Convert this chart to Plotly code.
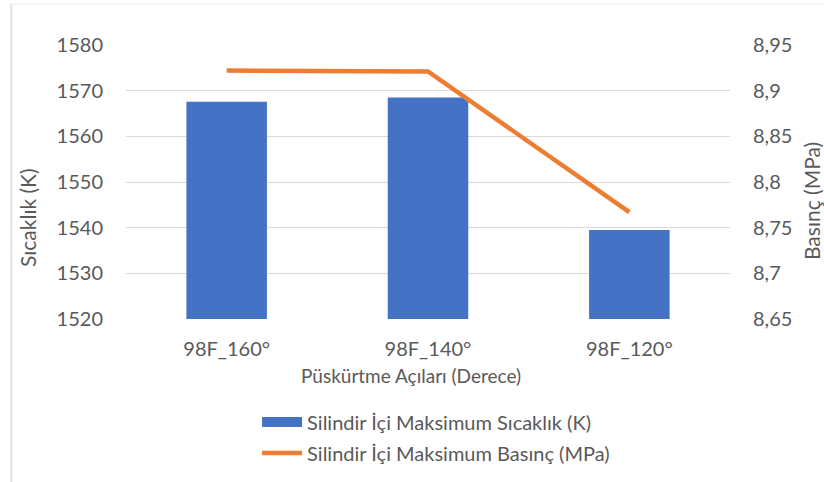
import plotly.graph_objects as go

# Injection angle cases
categories = ["98F_160°", "98F_140°", "98F_120°"]

# Maximum in-cylinder temperature (K) and pressure (MPa)
temperature_k = [1567.6, 1568.5, 1539.5]
pressure_mpa = [8.922, 8.921, 8.767]

# Axis ticks
temp_ticks = [1520, 1530, 1540, 1550, 1560, 1570, 1580]
press_ticks = [8.65, 8.70, 8.75, 8.80, 8.85, 8.90, 8.95]
press_tick_text = ["8,65", "8,7", "8,75", "8,8", "8,85", "8,9", "8,95"]

FONT = "Lato, Carlito, Calibri, sans-serif"
TEXT = "#595959"
GRID = "#d9d9d9"
BLUE = "#4472C4"
ORANGE = "#ED7D31"

temp_name = "Silindir İçi Maksimum Sıcaklık (K)"
press_name = "Silindir İçi Maksimum Basınç (MPa)"

fig = go.Figure()

fig.add_trace(go.Bar(
    x=categories,
    y=temperature_k,
    name=temp_name,
    legendgroup="temp",
    showlegend=False,
    marker=dict(color=BLUE, line=dict(width=0)),
    yaxis="y",
))

# wide rectangular legend key for the bar series
fig.add_trace(go.Scatter(
    x=[None],
    y=[None],
    name=temp_name,
    legendgroup="temp",
    mode="lines",
    line=dict(color=BLUE, width=14),
    hoverinfo="skip",
))

fig.add_trace(go.Scatter(
    x=categories,
    y=pressure_mpa,
    name=press_name,
    mode="lines",
    line=dict(color=ORANGE, width=4.5),
    yaxis="y2",
))

fig.update_layout(
    width=824,
    height=482,
    margin=dict(l=126, r=94, t=45, b=163, autoexpand=False),
    paper_bgcolor="white",
    plot_bgcolor="white",
    font=dict(family=FONT, color=TEXT),
    bargap=0.6,
    showlegend=True,
    legend=dict(
        x=0.217, y=-0.305, xanchor="left", yanchor="top",
        orientation="v",
        font=dict(family=FONT, size=20, color=TEXT),
        itemwidth=40,
        tracegroupgap=2,
        bgcolor="rgba(0,0,0,0)",
    ),
    xaxis=dict(
        showgrid=False,
        showline=False,
        zeroline=False,
        automargin=False,
        tickfont=dict(size=20, color=TEXT),
        ticklabelstandoff=16,
    ),
    yaxis=dict(
        range=[1520, 1580],
        tickvals=temp_ticks,
        showgrid=True,
        gridcolor=GRID,
        gridwidth=1.2,
        zeroline=False,
        showline=False,
        automargin=False,
        tickfont=dict(size=20, color=TEXT),
        ticklabelstandoff=22,
    ),
    yaxis2=dict(
        range=[8.65, 8.95],
        tickvals=press_ticks,
        ticktext=press_tick_text,
        overlaying="y",
        side="right",
        showgrid=False,
        zeroline=False,
        showline=False,
        automargin=False,
        tickfont=dict(size=20, color=TEXT),
        ticklabelstandoff=22,
    ),
    annotations=[
        dict(text="Püskürtme Açıları (Derece)", xref="paper", yref="paper",
             x=0.472, y=-0.208, xanchor="center", yanchor="middle",
             showarrow=False, font=dict(size=19, color=TEXT)),
        dict(text="Sıcaklık (K)", xref="paper", yref="paper",
             x=-0.162, y=0.369, xanchor="center", yanchor="middle",
             textangle=-90, showarrow=False, font=dict(size=21, color=TEXT)),
        dict(text="Basınç (MPa)", xref="paper", yref="paper",
             x=1.136, y=0.431, xanchor="center", yanchor="middle",
             textangle=-90, showarrow=False, font=dict(size=21, color=TEXT)),
    ],
    shapes=[
        dict(type="line", xref="paper", yref="paper",
             x0=-0.19, x1=-0.19, y0=-0.6, y1=1.15,
             line=dict(color="#e0e0e0", width=2)),
        dict(type="line", xref="paper", yref="paper",
             x0=-0.19, x1=1.2, y0=1.15, y1=1.15,
             line=dict(color="#eeeeee", width=1)),
    ],
)

fig.write_html("out.html")
